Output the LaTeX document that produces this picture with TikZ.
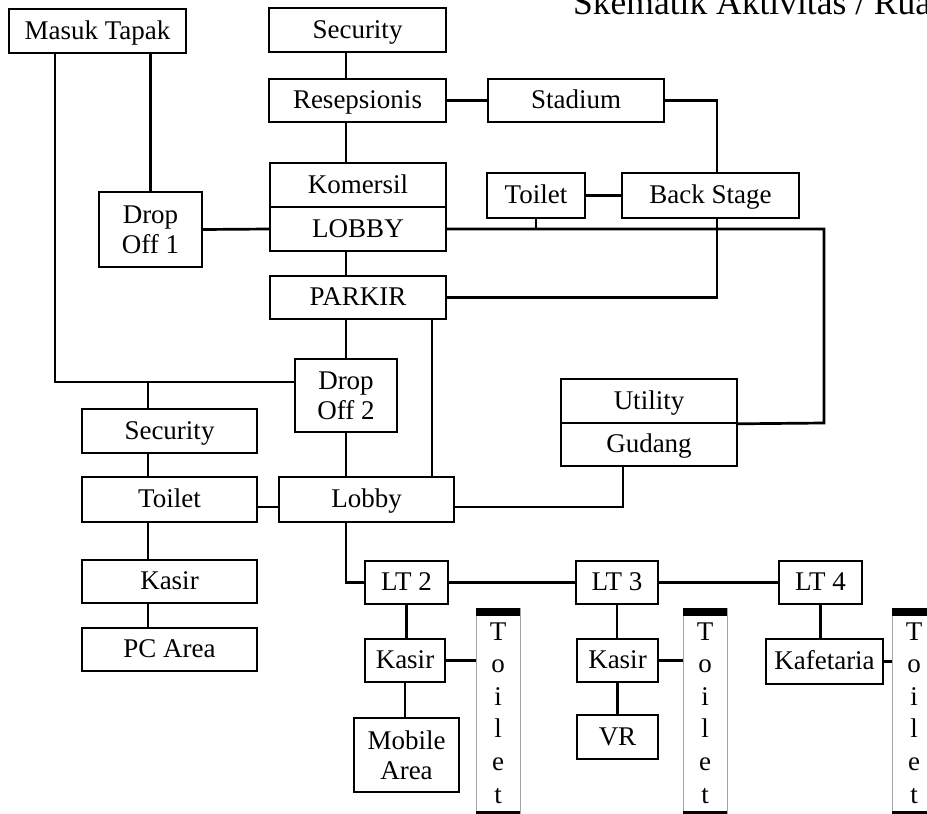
\documentclass[tikz,border=0pt]{standalone}
\usepackage{fontspec}
\setmainfont{Liberation Serif}
\begin{document}
\begin{tikzpicture}[x=1pt,y=-1pt,
    boxbase/.style={draw, line width=1.6pt, inner sep=0pt, fill=white,
      font=\fontsize{27}{30}\selectfont},
    box/.style={boxbase, text height=18pt, text depth=2pt},
    twoline/.style={boxbase, align=center},
    link/.style={line width=2.7pt},
    wc/.style={draw=gray!70, line width=0.8pt, inner sep=0pt,
      minimum width=44pt, minimum height=211pt},
    wcletter/.style={anchor=base, inner sep=0pt, font=\fontsize{27}{30}\selectfont}]
    \useasboundingbox (0,0) rectangle (927,814);

    % title, cut by the page edge
    \node[anchor=base west, inner sep=0pt, font=\fontsize{35.5}{40}\selectfont] (title) at (573,14) {Skematik Aktivitas / Ruang};

    % upper block
    \node[box, minimum width=177pt, minimum height=44pt] (masuk) at (97.5,31) {Masuk Tapak};
    \node[box, minimum width=177pt, minimum height=44pt] (secA) at (357.5,30) {Security};
    \node[box, minimum width=177pt, minimum height=43pt] (resep) at (357.5,100.5) {Resepsionis};
    \node[box, minimum width=176pt, minimum height=43pt] (stadium) at (576,100.5) {Stadium};
    \node[box, minimum width=176pt, minimum height=44pt] (komersil) at (358,185) {Komersil};
    \node[box, minimum width=176pt, minimum height=44pt] (lobbyA) at (358,229) {LOBBY};
    \node[box, minimum width=98pt, minimum height=45pt] (toiletA) at (536,195.5) {Toilet};
    \node[box, minimum width=177pt, minimum height=45pt] (backstage) at (710.5,195.5) {Back Stage};
    \node[twoline, minimum width=103pt, minimum height=75pt] (drop1) at (150.5,229.5) {Drop\\Off 1};
    \node[box, minimum width=176pt, minimum height=43pt] (parkir) at (358,297.5) {PARKIR};
    \node[twoline, minimum width=102pt, minimum height=73pt] (drop2) at (346,395.5) {Drop\\Off 2};
    \node[box, minimum width=176pt, minimum height=44pt] (utility) at (649,401) {Utility};
    \node[box, minimum width=176pt, minimum height=43pt] (gudang) at (649,444.5) {Gudang};

    % left column
    \node[box, minimum width=175pt, minimum height=44pt] (secB) at (169.5,431) {Security};
    \node[box, minimum width=175pt, minimum height=45pt] (toiletB) at (169.5,499.5) {Toilet};
    \node[box, minimum width=175pt, minimum height=43pt] (kasirB) at (169.5,581.5) {Kasir};
    \node[box, minimum width=175pt, minimum height=43pt] (pc) at (169.5,649.5) {PC Area};
    \node[box, minimum width=175pt, minimum height=45pt] (lobbyB) at (366.5,499.5) {Lobby};

    % floors
    \node[box, minimum width=83pt, minimum height=43pt] (lt2) at (406.5,582.5) {LT 2};
    \node[box, minimum width=82pt, minimum height=43pt] (lt3) at (617,582.5) {LT 3};
    \node[box, minimum width=83pt, minimum height=43pt] (lt4) at (820.5,582.5) {LT 4};
    \node[box, minimum width=80pt, minimum height=43pt] (kasir2) at (405,660.5) {Kasir};
    \node[twoline, minimum width=105pt, minimum height=74pt] (mobile) at (406.5,755) {Mobile\\Area};
    \node[box, minimum width=81pt, minimum height=43pt] (kasir3) at (617.5,660.5) {Kasir};
    \node[box, minimum width=81pt, minimum height=44pt] (vr) at (617.5,737) {VR};
    \node[box, minimum width=117pt, minimum height=45pt] (kafe) at (824.5,661.5) {Kafetaria};

    % toilet columns
    \foreach \n/\x in {wc2/498, wc3/705, wc4/914} {
        \node[wc] (\n) at (\x,713.5) {};
        \fill (\n.north west) rectangle ++(44,8);
        \fill (\n.south west) rectangle ++(44,-8);
        \foreach \c [count=\i] in {T,o,i,l,e,t}
            \node[wcletter] (\n-\i) at (\x,{640+32.6*(\i-1)}) {\c};
    }

    % connectors
    \coordinate (mL) at (55,53);
    \coordinate (jS) at (148,382);
    \coordinate (eR) at (824,423);
    \draw[link] (mL) |- ([yshift=13.5pt]drop2.west);
    \draw[link] (drop1.north) -- (drop1.north |- masuk.south);
    \draw[link] (drop1.east) -- (lobbyA.west);
    \draw[link] (secA.south -| drop2) -- (resep.north -| drop2);
    \draw[link] (resep.south -| drop2) -- (komersil.north -| drop2);
    \draw[link] (resep.east) -- (stadium.west);
    \draw[link] (stadium.east) -| ([xshift=6.5pt]backstage.north);
    \draw[link] (toiletA.east) -- (backstage.west);
    \draw[link] (toiletA.south) -- (toiletA.south |- lobbyA.east);
    \draw[link] (lobbyA.east) -| (eR) -- (utility.south east);
    \draw[link] ([xshift=6.5pt]backstage.south) |- (parkir.east);
    \draw[link] (lobbyA.south -| drop2) -- (parkir.north -| drop2);
    \draw[link] (parkir.south -| drop2) -- (drop2.north);
    \draw[link] ([xshift=74pt]parkir.south) -- ([xshift=74pt]parkir.south |- lobbyB.north);
    \draw[link] (drop2.south) -- (drop2.south |- lobbyB.north);
    \draw[link] ([xshift=-26pt]gudang.south) |- ([yshift=-7.5pt]lobbyB.east);
    \draw[link] ([yshift=-7.5pt]toiletB.east) -- ([yshift=-7.5pt]lobbyB.west);
    \draw[link] (jS) -- (jS |- secB.north);
    \draw[link] (secB.south -| jS) -- (toiletB.north -| jS);
    \draw[link] (toiletB.south -| jS) -- (kasirB.north -| jS);
    \draw[link] (kasirB.south -| jS) -- (pc.north -| jS);
    \draw[link] (lobbyB.south -| drop2) |- (lt2.west);
    \draw[link] (lt2.east) -- (lt3.west);
    \draw[link] (lt3.east) -- (lt4.west);
    \draw[link] (lt2.south) -- (kasir2.north -| lt2);
    \draw[link] (kasir2.south) -- (mobile.north -| kasir2);
    \draw[link] (kasir2.east) -- (kasir2.east -| wc2.west);
    \draw[link] (lt3.south) -- (kasir3.north -| lt3);
    \draw[link] (kasir3.south) -- (vr.north);
    \draw[link] (kasir3.east) -- (kasir3.east -| wc3.west);
    \draw[link] (lt4.south) -- (kafe.north -| lt4);
    \draw[link] (kafe.east) -- (kafe.east -| wc4.west);
\end{tikzpicture}
\end{document}
